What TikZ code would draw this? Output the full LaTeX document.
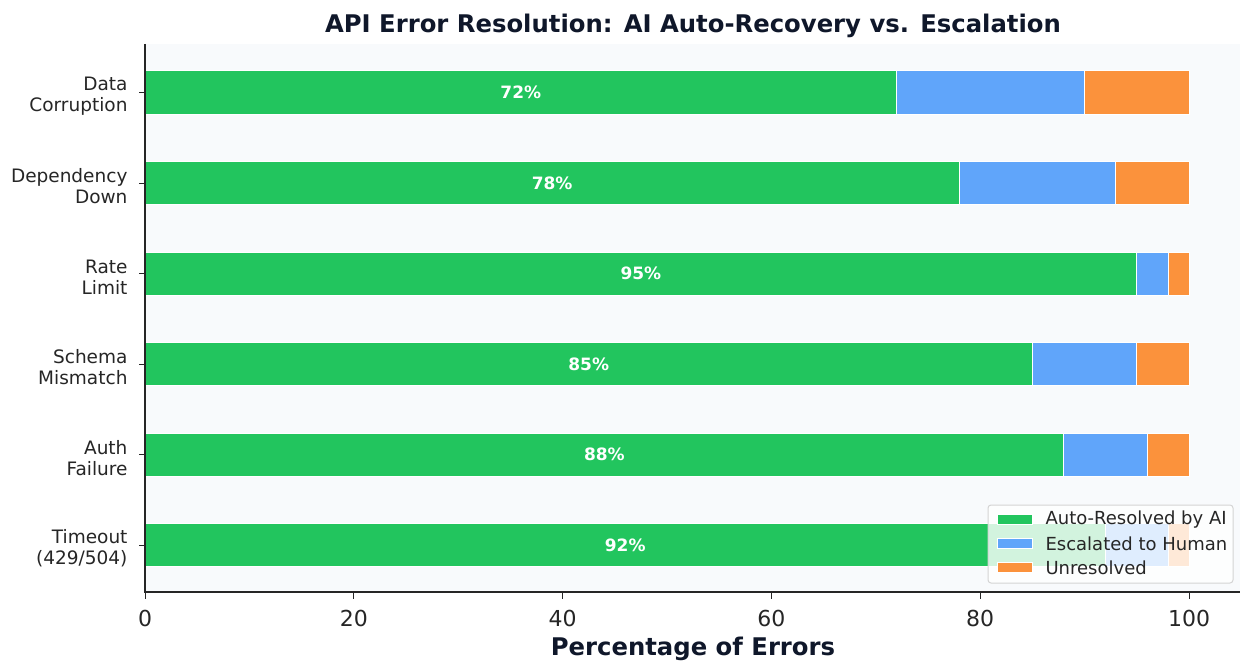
\documentclass[tikz,border=0pt]{standalone}
\usepackage{fontspec}
\setmainfont{DejaVu Sans}
\definecolor{autoc}{HTML}{22C55E}
\definecolor{escc}{HTML}{60A5FA}
\definecolor{unrc}{HTML}{FB923C}
\definecolor{plotbg}{HTML}{F8FAFC}
\definecolor{titlec}{HTML}{0F172A}
\definecolor{spinec}{HTML}{262626}
\definecolor{legframe}{HTML}{D4D4D4}
\tikzset{
  seg/.style={draw=white, line width=1pt},
  pct/.style={text=white, font=\bfseries\fontsize{17}{20}\selectfont},
  ylab/.style={anchor=east, align=right, text=spinec, font=\fontsize{18.5}{21}\selectfont},
  xlab/.style={anchor=base, text=spinec, font=\fontsize{22}{26}\selectfont},
  tick/.style={draw=spinec, line width=1pt},
  legtext/.style={anchor=west, text=spinec, font=\fontsize{18}{21}\selectfont},
}
\begin{document}
\begin{tikzpicture}[x=1pt,y=-1pt]
\useasboundingbox (0,0) rectangle (1240,661);
\fill[white] (0,0) rectangle (1240,661);
% plot area
\fill[plotbg] (145,44) rectangle (1240,592);
% x scale: 0 -> 145, 100 -> 1189
\def\xs{10.44}
\def\bh{21.5}
% rows: name, centre y, auto, escalated, unresolved, label
\foreach \row/\cy/\a/\e/\u/\lab in {
  dc/92.5/72/18/10/{Data\\Corruption},
  dd/183/78/15/7/{Dependency\\Down},
  rl/273.5/95/3/2/{Rate\\Limit},
  sm/364/85/10/5/{Schema\\Mismatch},
  af/454.5/88/8/4/{Auth\\Failure},
  to/545/92/6/2/{Timeout\\(429/504)}}{
  \pgfmathsetmacro{\xa}{145+\a*\xs}
  \pgfmathsetmacro{\xe}{145+(\a+\e)*\xs}
  \pgfmathsetmacro{\xu}{145+(\a+\e+\u)*\xs}
  \draw[seg, fill=autoc] (145,\cy-\bh) rectangle (\xa,\cy+\bh);
  \draw[seg, fill=escc] (\xa,\cy-\bh) rectangle (\xe,\cy+\bh);
  \draw[seg, fill=unrc] (\xe,\cy-\bh) rectangle (\xu,\cy+\bh);
  \node[pct] (p-\row) at ({(145+\xa)/2},\cy) {\a\%};
  \coordinate (t-\row) at (145,\cy);
  \draw[tick] (t-\row) -- ++(-6,0) coordinate (te-\row);
  \node[ylab] (l-\row) at ([xshift=-14pt,yshift=-3.5pt]t-\row) {\lab};
}
% spines
\draw[spinec, line width=1.3pt] (145,44) -- (145,592) -- (1240,592);
% x ticks
\foreach \v in {0,20,40,60,80,100}{
  \coordinate (xt-\v) at ({145+\v*\xs},592);
  \draw[tick] (xt-\v) -- ++(0,7);
  \node[xlab] (xl-\v) at ([yshift=-34pt]xt-\v) {\v};
}
% titles
\node[anchor=base, text=titlec, font=\bfseries\fontsize{24.3}{29}\selectfont] (title) at (693,32.7) {API Error Resolution: AI Auto-Recovery vs. Escalation};
\node[anchor=base, text=titlec, font=\bfseries\fontsize{24.3}{29}\selectfont] (xaxis) at (693,655) {Percentage of Errors};
% legend
\draw[draw=legframe, fill=white, fill opacity=0.8, rounded corners=3pt, line width=1pt] (988,505) rectangle (1233,583);
\foreach \c/\t/\yy in {autoc/Auto-Resolved by AI/519.5, escc/Escalated to Human/543.5, unrc/Unresolved/567.5}{
  \draw[seg, fill=\c] (997,\yy-5) rectangle (1032,\yy+5);
  \node[legtext] at (1042,\yy) {\t};
}
\end{tikzpicture}
\end{document}
